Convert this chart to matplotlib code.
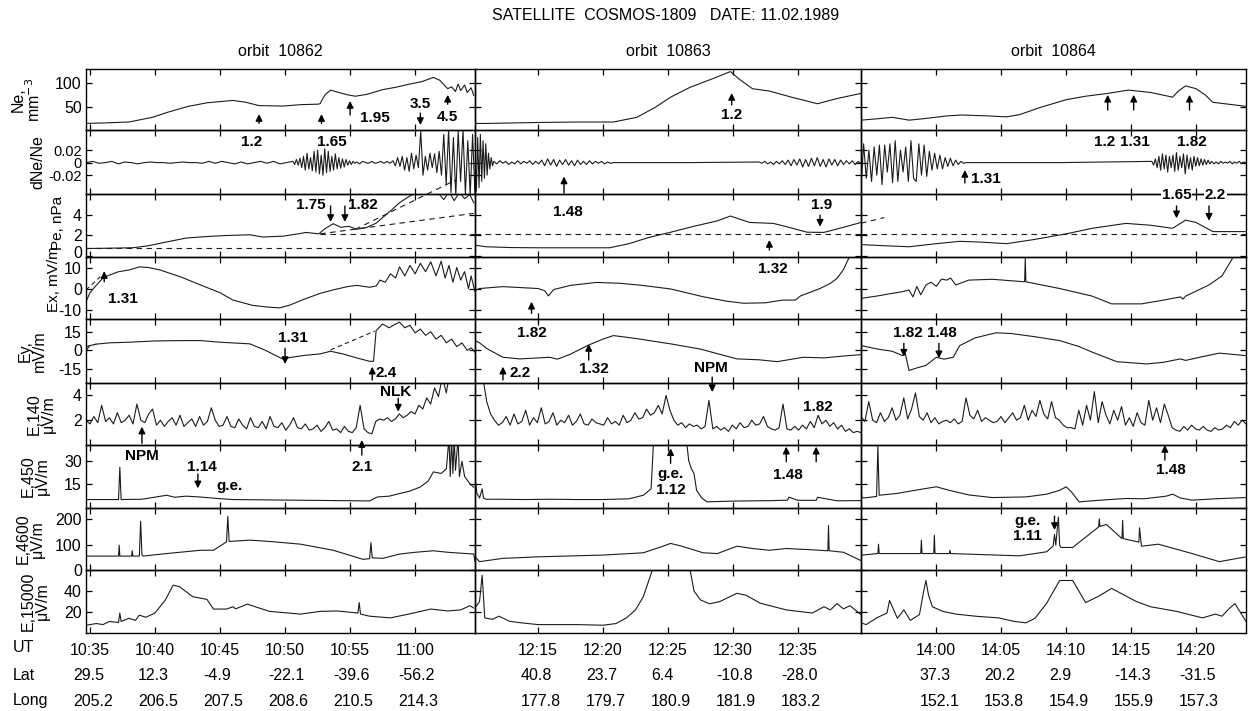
import numpy as np
import matplotlib
matplotlib.use('Agg')
import matplotlib.pyplot as plt
from matplotlib import transforms

plt.rcParams['font.family'] = ['Liberation Sans', 'DejaVu Sans']
plt.rcParams['font.size'] = 11.5

# ---------------- data ----------------
title = 'SATELLITE  COSMOS-1809   DATE: 11.02.1989'
orbits = ['orbit  10862', 'orbit  10863', 'orbit  10864']
xlims = [(34.7, 64.6), (10.15, 39.85), (54.2, 83.85)]
ut_ticks = [[35, 40, 45, 50, 55, 60], [15, 20, 25, 30, 35], [60, 65, 70, 75, 80]]
ut_labels = [['10:35', '10:40', '10:45', '10:50', '10:55', '11:00'],
             ['12:15', '12:20', '12:25', '12:30', '12:35'],
             ['14:00', '14:05', '14:10', '14:15', '14:20']]
lat_labels = [['29.5', '12.3', '-4.9', '-22.1', '-39.6', '-56.2'],
              ['40.8', '23.7', '6.4', '-10.8', '-28.0'],
              ['37.3', '20.2', '2.9', '-14.3', '-31.5']]
long_labels = [['205.2', '206.5', '207.5', '208.6', '210.5', '214.3'],
               ['177.8', '179.7', '180.9', '181.9', '183.2'],
               ['152.1', '153.8', '154.9', '155.9', '157.3']]

row_names = ['Ne,\nmm$^{-3}$', 'dNe/Ne', 'Pe, nPa', 'Ex, mV/m', 'Ey,\nmV/m',
             'E,140\nμV/m', 'E,450\nμV/m', 'E,4600\nμV/m', 'E,15000\nμV/m']
ylims = [(0, 130), (-0.05, 0.052), (-0.1, 6.05), (-14.5, 15), (-26, 25),
         (0, 5), (-0.5, 40.5), (0, 245), (0, 60)]
yticks = [[50, 100], [-0.02, 0, 0.02], [0, 2, 4], [-10, 0, 10], [-15, 0, 15],
          [2, 4], [15, 30], [0, 100, 200], [20, 40]]
yticklabels = [['50', '100'], ['-0.02', '0', '0.02'], ['0', '2', '4'], ['-10', '0', '10'],
               ['-15', '0', '15'], ['2', '4'], ['15', '30'], ['0', '100', '200'], ['20', '40']]

# Ne
ne_t1 = [34.7, 36, 38, 39.8, 41, 42.5, 44, 46, 47, 48, 49.8, 51.2, 52.5, 52.7, 52.8, 53.1, 53.5, 54.0,
         54.4, 54.8, 55.4, 56.3, 57.5, 58.5, 59.6, 60.5, 61.4, 61.9, 62.5, 62.8, 63.1, 63.3, 63.5, 63.8,
         64.0, 64.3, 64.5]
ne_v1 = [14, 15, 17, 27, 38, 50, 58, 63, 59, 52, 51, 54, 55, 56, 62, 76, 85, 81, 78, 75, 72, 76, 86, 91,
         98, 103, 112, 106, 88, 92, 82, 98, 84, 96, 80, 90, 74]
ne_t2 = [10.15, 11, 13, 15, 18, 20.8, 22.6, 24, 25.2, 26.7, 28.5, 29.8, 30.5, 31.5, 32.8, 34.5, 36.5, 38, 39.85]
ne_v2 = [14, 14, 15, 16, 17, 17, 27, 48, 70, 91, 110, 124.5, 108, 88, 83, 70, 56, 67, 78]
ne_t3 = [54.2, 55.5, 56.6, 57.9, 59, 60.8, 62, 64, 65.4, 66.4, 68, 70, 71.5, 73.1, 74.8, 76.5, 78.2, 78.6,
         79.2, 80, 80.7, 81.3, 82.5, 84]
ne_v3 = [21, 24, 27, 21, 24, 30, 32, 30, 28, 32.6, 48, 64.6, 72, 77.6, 85, 80, 70, 82, 94, 88, 75, 59, 55, 50]

# dNe/Ne (units of 1e-3), piecewise segments
dne_b1 = [34.7, 50.6, 55.5, 58.3, 62.2, 64.6]
dne_s1 = [
    [0, 2, -1, 0, 2, -2, 1, 0, -2, 0, 1, 0, 0, -1, 0, 1, 0, 0, -1, 2, -1, 2, 0, -2, 1, -2, 0, 2, -1, 2, -2, 0],
    [2, -3, 5, -4, 7, -8, 10, -12, 15, -10, 8, -13, 18, -15, 20, -18, 12, -20, 22, -16, 18, -14, 10, -12,
     14, -10, 8, -9, 6, -7, 5, -4, 3, -3, 2, -1],
    [1, -2, 2, 0, -1, 2, -1, 0, 2, -1, 2, -1],
    [3, -5, 8, -6, 10, -12, 8, -14, 15, -10, 12, -8, 50, -20, 10, -12, 15, -8, 14, -16, 18, -20],
    [45, -35, 52, -48, 40, -52, 50, -30, 52, -50, 35, -52, 45, -52]]
dne_b2 = [10.15, 11.6, 20.8, 32, 39.85]
dne_s2 = [
    [10, -45, 40, -40, 45, -30, 35, -25, 30, -20, 15, -10, 8, -5],
    [2, -2, 3, -1, 2, -3, 1, -2, 3, -2, 2, -1, 3, -3, 2, -2, 4, -5, 6, -4, 5, -6, 4, -3, 5, -4, 3, -5, 4,
     -3, 2, -3, 3, -2, 2, -1, 2, -2, 1, -1],
    [0, 0],
    [1, -1, 2, -2, 1, -3, 2, -2, 3, -3, 4, -5, 5, -4, 6, -7, 5, -6, 7, -5, 8, -6, 5, -7, 6, -4, 5, -5, 4,
     -3, 3, -2, 3, -3, 2, -1]]
dne_b3 = [54.2, 62.3, 76.6, 81.2, 83.85]
dne_s3 = [
    [-40, 30, -25, 20, -30, 25, -20, 28, -35, 28, -15, 30, -32, 35, -30, 20, -15, 25, -30, 35, -25, -30,
     30, -20, 28, -22, 18, -12, 15, -10, 12, -10, 8, -6, 7, -5, 4, -3, 2, -1],
    [0, 0],
    [2, -4, 6, -8, 10, -12, 14, -10, 12, -15, 10, -8, 12, -14, 16, -12, 10, -8, 14, -18, 12, -10, 8, -12,
     10, -6, 8, -5, 6, -4, 5, -3, 4, -2],
    [2, -2, 1, -2, 2, -1, 1, -1, 2, -2, 1, -1, 2, -1, 1, 0]]

# Pe
pe_t1 = [34.7, 36, 38.3, 39.5, 40.9, 42.4, 44, 45.5, 47.3, 48.3, 49.9, 51.2, 51.6, 52.6, 53.0, 53.7, 54.3,
         54.9, 55.5, 56.3, 57, 57.5, 58.2, 58.8, 59.4, 59.8, 60.3, 60.8, 61.3, 61.8, 62.2, 62.6, 63.0, 63.4,
         63.8, 64.2, 64.5]
pe_v1 = [0.73, 0.75, 0.8, 1.0, 1.37, 1.75, 1.9, 2.0, 2.07, 1.85, 1.94, 2.2, 2.3, 2.16, 2.6, 3.15, 2.8,
         2.9, 2.6, 2.8, 3.2, 3.75, 4.5, 5.2, 5.7, 6.0, 6.3, 6.5, 6.6, 6.1, 5.5, 6.3, 5.4, 6.2, 5.6, 6.0, 5.2]
pe_t2 = [10.15, 11, 13, 15, 18, 20.5, 22, 23.5, 25.2, 27, 28.8, 29.8, 30.5, 31.3, 33.1, 34, 35.7, 37,
         38.5, 39.85]
pe_v2 = [1.05, 0.9, 0.82, 0.8, 0.8, 0.8, 1.2, 1.8, 2.32, 2.9, 3.43, 3.9, 3.6, 3.27, 3.18, 2.9, 2.32, 2.3,
         2.8, 3.27]
pe_t3 = [54.2, 56, 57.9, 60, 61.8, 63.5, 65.4, 67.5, 70, 72, 74.6, 76.5, 78.2, 79.2, 80, 81.3, 83.85]
pe_v3 = [1.11, 1.0, 0.9, 1.2, 1.43, 1.35, 1.2, 1.6, 2.16, 2.7, 3.18, 3.0, 2.7, 3.5, 3.27, 2.38, 2.38]
pe_dash_t = [[[34.7, 64.6], [52.7, 64.6], [52.7, 64.5], [55.4, 63.1]],
             [[10.15, 39.85]],
             [[54.2, 83.85], [54.2, 56.0]]]
pe_dash_v = [[[0.73, 0.73], [2.16, 2.16], [2.16, 4.16], [2.6, 7.4]],
             [[2.16, 2.16]],
             [[2.16, 2.16], [3.2, 3.75]]]

# Ex
ex_t1 = [34.7, 35.0, 35.4, 36, 36.5, 37.2, 38, 38.8, 39.5, 40.4, 42, 43.5, 45, 46, 47.5, 48.8, 49.6, 50.4,
         51.5, 52.7, 53.8, 54.8, 55.5, 56.5, 57.0, 57.3, 57.7, 58.1, 58.5, 58.8, 59.2, 59.6, 60.0, 60.4,
         60.8, 61.2, 61.6, 62.0, 62.3, 62.6, 62.9, 63.2, 63.5, 63.8, 64.1, 64.3, 64.6]
ex_v1 = [-6.3, -2, 0.9, 5, 6.4, 8, 8.8, 10.3, 10, 8.8, 5.5, 1.7, -2, -5.5, -8, -8.9, -9.2, -7.8, -5, -2.3,
         -0.5, 0.9, 1.5, 0.6, 1.2, 4, 3, 7, 5, 10.3, 6, 11, 7, 12, 8, 12.7, 6, 13, 5, 11, 3, 10, 4, 8, 0,
         6, -1.5]
ex_t2 = [10.15, 10.5, 12.3, 13.5, 15, 15.5, 15.8, 16.2, 17.5, 19.5, 21.3, 23, 25.2, 27.7, 29.5, 30.8, 32.5,
         33.8, 34.8, 35.2, 36.7, 37.5, 38, 38.5, 38.9, 39.3]
ex_v2 = [-1, 0, 0.9, 0.5, 0, -1, -3.5, -0.5, 1.5, 2.9, 2.5, 1.5, -0.2, -3.9, -6, -7, -6.8, -5.5, -5.5,
         -3.5, 0, 2.5, 4.8, 9, 14.3, 20]
ex_t3 = [54.2, 54.25, 54.3, 55.5, 56.6, 57.4, 57.9, 58.2, 58.5, 58.8, 59.2, 59.6, 60.0, 60.4, 60.8, 61.1,
         61.5, 62.5, 64.3, 66.8, 66.85, 66.9, 69.5, 72, 73.5, 75.8, 77.5, 78.8, 79.0, 79.2, 81, 82, 82.8, 83.2]
ex_v3 = [16, -4.6, -4.6, -3.5, -2.3, -1.5, -0.7, -4, 1, -3, 1.7, 3, 1, 4.5, 4, 5, 1.7, 4, 4.4, 3.2, 14.3,
         3.2, 0, -3.6, -7.3, -7.3, -5.5, -4, -5, -3.6, 1.7, 6, 14.3, 17]
ex_dash_t = [34.7, 35.8]
ex_dash_v = [-0.7, 5.6]

# Ey
ey_t1 = [34.7, 35.0, 35.5, 36.5, 38, 40, 42, 43.5, 45, 47.3, 48.5, 49.8, 50.5, 51.5, 52.7, 53.5, 54.5, 55.5,
         56.5, 56.8, 57.0, 57.5, 58.0, 58.4, 58.8, 59.2, 59.6, 60.0, 60.4, 60.8, 61.2, 61.6, 62.0, 62.4,
         62.8, 63.2, 63.6, 64.0, 64.3, 64.6]
ey_v1 = [0, 3.8, 5, 6, 6.5, 7.5, 7.8, 7.8, 6.5, 5.2, 0, -6.8, -5.5, -4, -2.8, -0.7, -3, -6, -8.7, -8.7,
         15.8, 21, 18, 20.5, 22.5, 18, 20, 14, 17, 12, 14.8, 9, 12, 6, 9, 3, 6, 0, 2, -1.4]
ey_t2 = [10.15, 10.5, 11.1, 12.3, 13.6, 15, 15.9, 16.5, 17.5, 18.8, 19.3, 20, 20.8, 22.5, 25.2, 27.5,
         30.3, 32, 33.4, 35.4, 37, 38.5, 39.85]
ey_v2 = [7.8, 6, 1.2, -5.5, -6.8, -6, -5.5, -7, -3, 3.8, 6, 9, 11.8, 9.5, 5.2, 1, -6.8, -7.5, -9, -5.5,
         -6, -4.5, -3.4]
ey_t3 = [54.2, 55.5, 56.6, 57.4, 57.6, 57.9, 58.5, 59.2, 60, 60.6, 61.3, 61.8, 63, 64.6, 65.8, 67.5, 69.5,
         71, 72, 73.9, 76.2, 77.5, 78.8, 79.2, 80.5, 81.8, 83.85]
ey_v3 = [3.8, 1, -0.7, -4.2, -2, -16, -14, -12, -5.5, -7, -5.5, 3.8, 10, 14, 13.4, 11, 7.8, 3, -1.4, -9,
         -10.8, -9.5, -6.8, -8, -5, -2.2, -4.2]
ey_dash_t = [[34.7, 35.5], [53.5, 56.9]]
ey_dash_v = [[3.0, 5.0], [0.4, 15.4]]

# E 140 Hz (uniformly sampled)
e140_v1 = [2.0, 1.7, 2.3, 1.8, 3.2, 1.9, 2.2, 1.7, 2.6, 1.8, 2.0, 2.4, 1.7, 3.3, 2.0, 1.8, 2.5, 2.9, 1.6,
           2.0, 1.5, 1.9, 2.2, 1.6, 2.4, 1.5, 1.8, 2.1, 1.5, 2.3, 1.6, 1.9, 3.0, 2.0, 1.5,
           1.6, 2.3, 1.5, 1.4, 2.1, 1.6, 1.3, 2.2, 1.5, 1.4, 1.9, 1.3, 2.3, 1.5, 1.4, 1.8, 1.2, 1.6, 2.2,
           1.4, 1.3, 1.7, 1.2, 1.3, 1.6, 1.1, 1.4, 1.9, 1.2, 1.3, 1.0, 1.5, 1.1,
           1.0, 1.4, 3.2, 1.3, 1.0, 0.9, 1.9,
           2.1, 2.0, 2.2, 1.9, 2.1, 2.5, 2.2, 2.4, 2.7, 2.5,
           3.2, 2.9, 3.8, 3.3, 4.6, 3.9, 5.5, 4.2, 6.0, 5.8, 7, 6.5, 7, 5.5, 7]
e140_v2 = [7, 6, 5.5, 3.5, 2.5,
           2.0, 1.6, 1.8, 2.3, 1.6, 2.5, 1.7, 1.9, 2.8, 1.6, 2.2, 1.8, 3.0, 1.7, 1.9, 2.6, 1.6, 2.0, 1.8,
           2.4, 1.6, 1.9, 2.5, 1.7, 1.6, 2.1, 1.8, 1.7,
           1.6, 2.2, 1.7, 1.9, 1.6, 2.4, 1.8, 2.0, 2.6, 2.1, 2.2, 2.9, 2.4, 2.6, 3.2, 2.5, 4.0, 2.8,
           2.0, 1.6, 1.8, 1.4, 1.7, 1.5, 1.6, 1.3, 1.5, 3.6,
           1.3, 1.5, 1.2, 1.4, 1.1, 1.6, 1.3, 1.8, 1.4, 1.5, 2.0, 1.6, 1.7, 2.3, 1.5, 1.3, 1.2, 1.4, 3.3,
           1.3, 1.2, 1.5,
           1.2, 1.6, 1.3, 1.9, 1.4, 2.4, 1.7, 2.0, 1.5, 1.8, 1.3, 1.6, 1.1, 1.3, 1.0, 1.1, 1.0]
e140_v3 = [2.3, 1.9, 3.5, 2.0, 1.8, 2.6, 1.9, 2.2, 3.0, 2.0, 2.4, 3.8, 2.1, 2.9, 4.2, 2.3, 2.0, 2.6, 1.8,
           2.2, 1.7, 1.9, 2.0, 1.8, 2.1, 1.7, 1.9, 3.8, 2.4, 2.1, 2.8, 1.9, 2.2, 2.0, 1.8, 1.9, 2.3, 1.8,
           2.2, 2.6, 2.0, 2.2, 3.2, 2.0, 2.8, 2.3, 3.6, 2.5, 2.1, 3.5, 2.2, 2.0, 1.6, 1.4,
           1.4, 1.3, 2.8, 1.6, 3.2, 2.0, 4.3, 1.8, 3.5, 2.4, 1.7, 2.8, 2.0, 3.1, 1.6, 2.2, 1.5, 2.6, 1.8,
           1.6, 3.6, 2.0, 3.0, 1.8, 3.3, 2.4, 1.4,
           1.2, 1.1, 1.5, 1.2, 1.6, 1.3, 1.2, 1.5, 1.2, 1.1, 1.4, 1.2, 1.3, 1.6, 1.4, 1.9, 1.6, 2.0, 1.7]
e140_span = [(34.7, 64.5), (10.15, 39.85), (54.2, 83.85)]

# E 450 Hz
e450_t1 = [34.7, 37.2, 37.3, 37.4, 39, 40.9, 41.5, 42.4, 43.4, 44.8, 46, 56.5, 57.1, 58, 58.8, 59.6, 60.4,
           61, 61.4, 62, 62.4, 62.6, 62.7, 62.8, 62.9, 63.0, 63.1, 63.3, 63.4, 63.6, 63.8, 64.2, 64.5]
e450_v1 = [5, 5, 26, 5, 5.2, 7.8, 6.5, 7.2, 6.7, 5.7, 5, 4.1, 6.7, 7.2, 8.9, 10.5, 13.2, 17, 23, 22, 25,
           45, 20, 45, 22, 45, 24, 45, 20, 30, 20, 15.5, 13]
e450_t2 = [10.15, 10.3, 10.5, 10.7, 10.8, 11.0, 12, 14, 16, 18, 20, 22, 23.1, 23.7, 23.9, 26.4, 26.6, 26.8,
           27.0, 27.2, 27.6, 28, 30, 33, 34.2, 34.3, 35, 36.4, 36.5, 38, 39.85]
e450_v2 = [19.8, 9, 6, 12, 6, 5.2, 5.2, 5.0, 5.2, 5.0, 5.0, 5.5, 7.8, 12, 45, 45, 30, 25, 22, 11, 6, 3.5,
           4.0, 4.3, 4.6, 6.5, 4.5, 4.5, 6.5, 4.2, 4.3]
e450_t3 = [54.2, 54.25, 54.4, 55.4, 55.5, 55.6, 57, 58, 59.2, 60, 61, 62.5, 64.3, 66.9, 68.5, 69.5, 70,
           70.4, 71, 72.5, 74.6, 76, 77.7, 78.2, 78.8, 79.7, 81.5, 83.85]
e450_v3 = [22, 6.7, 6.0, 7, 40, 7.8, 9, 10.5, 12.2, 13.3, 11, 8, 6.3, 6.7, 8.5, 11, 13.3, 10, 3.5, 4.5,
           5.7, 5.5, 7.2, 8.5, 6, 4.6, 5.5, 6.3]

# E 4600 Hz
e4600_t1 = [34.7, 37.2, 37.25, 37.3, 38.2, 38.25, 38.3, 38.8, 38.9, 39.0, 39.1, 40.9, 43.5, 44.5, 45.5,
            45.6, 45.7, 47.3, 49, 51.2, 53.7, 56, 56.5, 56.6, 56.7, 57.5, 58.8, 60, 61.4, 62.5, 64.5, 64.6]
e4600_v1 = [55, 55, 98, 55, 55, 76, 55, 55, 193, 60, 55, 65, 78, 78, 111, 212, 113, 118, 112, 102, 78, 42,
            45, 108, 48, 46, 63, 70, 76, 70, 63, 33]
e4600_t2 = [10.15, 10.5, 12.3, 15, 20, 23.1, 24.5, 25.2, 26, 27.7, 28.8, 30.3, 31.5, 32.8, 34.1, 36, 37.3,
            37.35, 37.4, 38.5, 39.85]
e4600_v2 = [52, 33, 46, 52, 59, 68, 92, 105, 95, 68, 65, 94, 85, 78, 85, 80, 76, 176, 76, 70, 37]
e4600_t3 = [54.2, 54.25, 54.3, 55.5, 55.55, 55.6, 58.8, 58.85, 58.9, 59.8, 59.85, 59.9, 61, 61.05, 61.1,
            66.4, 68.5, 69.0, 69.1, 69.2, 69.4, 69.5, 69.6, 70.5, 72.5, 72.55, 72.6, 73.1, 74.3, 74.35,
            74.4, 75.6, 75.65, 75.8, 77.1, 79.7, 81.8, 83.85]
e4600_v3 = [130, 59, 59, 65, 102, 65, 65, 118, 65, 65, 137, 65, 65, 78, 65, 56, 72, 95, 141, 98, 209, 98,
            89, 89, 170, 202, 172, 180, 124, 196, 124, 110, 167, 94, 102, 65, 33, 52]

# E 15000 Hz
e15k_t1 = [34.7, 35.5, 36, 36.5, 37.2, 37.3, 37.4, 38, 38.5, 38.8, 39.3, 40, 40.8, 41.4, 41.9, 42.9, 44,
           44.5, 45.5, 46, 46.2, 47.1, 48.8, 51.2, 52.7, 54, 55.6, 55.7, 55.8, 56.5, 58.1, 59.5, 61.2,
           62.5, 63.5, 64.2, 64.5]
e15k_v1 = [7.4, 9, 8, 11, 10, 19, 11, 14, 12, 17, 15, 19, 31.5, 45.6, 44, 34.6, 32, 22.8, 22.8, 25, 23,
           27.5, 20.6, 18, 20.6, 21, 19, 29, 18, 16, 14.4, 18, 22.8, 21, 22, 26, 23.8]
e15k_t2 = [10.15, 10.5, 10.7, 10.9, 11.5, 12, 12.8, 13.5, 15, 18, 20, 21, 21.8, 22.5, 23.1, 23.8, 26.7,
           27.0, 27.5, 28.2, 29, 30.3, 31, 32.1, 34.1, 36.1, 37, 37.5, 38, 38.5, 39, 39.5, 39.85]
e15k_v2 = [23.8, 30, 55, 14.4, 13, 16, 11.2, 10, 8, 8, 7.4, 9, 14.4, 22, 34.6, 60, 60, 40, 31.5, 27.8, 30,
           37.8, 36, 28.4, 22, 19, 25, 22, 28, 23, 26, 21, 17.5]
e15k_t3 = [54.2, 54.6, 55.5, 56.2, 56.4, 57, 57.5, 58, 58.7, 59.0, 59.2, 59.4, 59.7, 60.5, 61.5, 63.1,
           64.8, 66, 66.9, 67.6, 68.5, 69.5, 70.5, 71.5, 72.5, 73.5, 75.4, 76.5, 78.5, 80.5, 81.5, 82,
           82.6, 83, 83.85]
e15k_v3 = [9.7, 8, 15, 19, 31, 14, 22, 12, 17.5, 38, 50, 36, 25, 20.6, 18, 15.9, 14.4, 11, 9.7, 14, 28.4,
           50, 50, 29, 35, 42.5, 30, 25, 20.6, 14.4, 18, 16, 23.8, 28, 11]

# annotations: (row, col, text, t, value)
ann_labels = [
    (0, 0, '1.2', 47.4, -25.6), (0, 0, '1.65', 53.6, -25.6), (0, 0, '1.95', 56.9, 25.5),
    (0, 0, '3.5', 60.4, 55.4), (0, 0, '4.5', 62.5, 27.7), (0, 1, '1.2', 29.9, 32),
    (0, 2, '1.2', 73.0, -25.6), (0, 2, '1.31', 75.3, -25.6), (0, 2, '1.82', 79.7, -25.6),
    (1, 1, '1.48', 17.3, -0.0787), (1, 2, '1.31', 63.8, -0.026),
    (2, 0, '1.75', 52.0, 4.98), (2, 0, '1.82', 56.0, 4.98),
    (2, 1, '1.32', 33.1, -1.27), (2, 1, '1.9', 36.8, 4.98),
    (3, 0, '1.31', 37.5, -5), (3, 1, '1.82', 14.5, -21),
    (4, 0, '1.31', 50.6, 10.1), (4, 0, '2.4', 57.8, -18.3), (4, 1, '2.2', 13.6, -18.3),
    (4, 1, '1.32', 19.3, -14.8), (4, 1, 'NPM', 28.3, -14.3), (4, 2, '1.82', 57.8, 14.1),
    (4, 2, '1.48', 60.4, 14.1),
    (5, 0, 'NPM', 39.0, -0.89), (5, 0, 'NLK', 58.5, 4.3), (5, 0, '2.1', 55.9, -1.8),
    (5, 1, '1.82', 36.5, 3.09),
    (6, 0, '1.14', 43.6, 26), (6, 0, 'g.e.', 45.7, 13.8), (6, 1, 'g.e.', 25.2, 21.4),
    (6, 1, '1.12', 25.2, 11.2), (6, 1, '1.48', 34.2, 21.0), (6, 2, '1.48', 78.1, 24.2),
    (7, 2, 'g.e.', 67.0, 195), (7, 2, '1.11', 67.0, 134)]
ann_boxed = [(2, 2, '1.65', 78.5, 6.0), (2, 2, '2.2', 81.5, 6.0)]
# arrows: (row, col, t, value at tail, value at tip)
ann_arrows = [
    (0, 0, 48.0, 14, 34), (0, 0, 52.8, 14, 34), (0, 0, 55.0, 32, 61.8), (0, 0, 60.4, 36, 10.6),
    (0, 0, 62.5, 55, 75), (0, 1, 29.9, 53.3, 78.9),
    (0, 2, 73.2, 42.6, 75), (0, 2, 75.2, 42.6, 75), (0, 2, 79.5, 42.6, 75),
    (1, 1, 17.0, -0.0484, -0.0221), (1, 2, 62.2, -0.0325, -0.0117),
    (2, 0, 53.5, 4.88, 3.32), (2, 0, 54.6, 4.88, 3.32),
    (2, 1, 32.8, 0.58, 1.56), (2, 1, 36.7, 3.99, 2.86),
    (2, 2, 78.5, 4.88, 3.68), (2, 2, 81.0, 4.88, 3.44),
    (3, 0, 36.1, 3.2, 8.3), (3, 1, 14.5, -11.8, -6.3),
    (4, 0, 50.0, 1.65, -10.9), (4, 0, 56.7, -23.6, -13), (4, 1, 12.3, -23.6, -13),
    (4, 1, 18.9, -7.7, 5.1), (4, 2, 57.5, 5.6, -5.0), (4, 2, 60.2, 5.6, -6.3),
    (5, 0, 39.0, 0.14, 1.48), (5, 0, 58.7, 3.77, 2.69), (5, 0, 55.9, -0.81, 0.4),
    (5, 1, 28.4, 5.48, 4.27),
    (6, 0, 43.3, 21.6, 12.3), (6, 1, 25.2, 28.6, 38.4), (6, 1, 34.1, 29.6, 39.4),
    (6, 1, 36.4, 29.6, 39.4), (6, 2, 77.6, 30.7, 40.5),
    (7, 2, 69.1, 213, 158)]


def build_segments(bounds, segs, scale=1.0):
    ts, vs = [], []
    for i, vals in enumerate(segs):
        last = i == len(segs) - 1
        ts.append(np.linspace(bounds[i], bounds[i + 1], len(vals), endpoint=last))
        vs.append(np.asarray(vals, dtype=float) * scale)
    return np.concatenate(ts), np.concatenate(vs)


traces = [[None] * 3 for _ in range(9)]
traces[0] = [(ne_t1, ne_v1), (ne_t2, ne_v2), (ne_t3, ne_v3)]
traces[1] = [build_segments(dne_b1, dne_s1, 1e-3), build_segments(dne_b2, dne_s2, 1e-3),
             build_segments(dne_b3, dne_s3, 1e-3)]
traces[2] = [(pe_t1, pe_v1), (pe_t2, pe_v2), (pe_t3, pe_v3)]
traces[3] = [(ex_t1, ex_v1), (ex_t2, ex_v2), (ex_t3, ex_v3)]
traces[4] = [(ey_t1, ey_v1), (ey_t2, ey_v2), (ey_t3, ey_v3)]
traces[5] = [build_segments(list(e140_span[c]), [v]) for c, v in enumerate([e140_v1, e140_v2, e140_v3])]
traces[6] = [(e450_t1, e450_v1), (e450_t2, e450_v2), (e450_t3, e450_v3)]
traces[7] = [(e4600_t1, e4600_v1), (e4600_t2, e4600_v2), (e4600_t3, e4600_v3)]
traces[8] = [(e15k_t1, e15k_v1), (e15k_t2, e15k_v2), (e15k_t3, e15k_v3)]

# ---------------- layout ----------------
W, H = 1248, 711
fig = plt.figure(figsize=(W / 100, H / 100), dpi=100)
col_px = [(86, 475), (475, 861), (861, 1246)]
row_px = [69, 130, 194, 257, 319, 383, 445, 508, 570, 633]
label_x = [27, 38, 58, 54, 32, 41, 35, 30, 35]
label_yc = [99.5, 162, 223, 279, 351, 414, 476.5, 539, 601.5]
label_fs = [11.5, 11.5, 11, 11, 11.5, 11.5, 11.5, 11.5, 11.5]
ytick_fs = [11.5, 10.5, 11.5, 11.5, 11.5, 11.5, 11.5, 11.5, 11.5]
LC = '#1c1c1c'

axes = [[None] * 3 for _ in range(9)]
for r in range(9):
    for c in range(3):
        x0, x1 = col_px[c]
        y0, y1 = row_px[r], row_px[r + 1]
        ax = fig.add_axes([x0 / W, 1 - y1 / H, (x1 - x0) / W, (y1 - y0) / H])
        ax.set_facecolor('none')
        axes[r][c] = ax
        ax.set_xlim(*xlims[c])
        ax.set_ylim(*ylims[r])
        ax.set_xticks(ut_ticks[c])
        ax.set_yticks(yticks[r])
        ax.tick_params(direction='in', length=4, width=0.9, top=True, right=True,
                       labelsize=11.5, pad=3)
        ax.tick_params(axis='y', labelsize=ytick_fs[r])
        for s in ax.spines.values():
            s.set_linewidth(1.0)
        if c == 0:
            ax.set_yticklabels(yticklabels[r])
        else:
            ax.set_yticklabels([])
        if r == 8:
            ax.set_xticklabels(ut_labels[c])
            ax.tick_params(axis='x', pad=7)
        else:
            ax.set_xticklabels([])
        t, v = traces[r][c]
        ax.plot(t, v, color=LC, lw=0.8)

# lift the Pe "0" label a little so it clears the Ex "10" label below it
pe0 = axes[2][0].get_yticklabels()[0]
pe0.set_transform(pe0.get_transform() + transforms.ScaledTranslation(0, 4 / 100, fig.dpi_scale_trans))

# dashed reference lines
for c in range(3):
    for dt, dv in zip(pe_dash_t[c], pe_dash_v[c]):
        axes[2][c].plot(dt, dv, color=LC, lw=0.8, ls=(0, (5, 4)), clip_on=False)
axes[3][0].plot(ex_dash_t, ex_dash_v, color=LC, lw=0.8, ls=(0, (4, 3)))
for dt, dv in zip(ey_dash_t, ey_dash_v):
    axes[4][0].plot(dt, dv, color=LC, lw=0.8, ls=(0, (4, 3)))

# annotations
for r, c, txt, t, v in ann_labels:
    axes[r][c].text(t, v, txt, ha='center', va='center', fontsize=11, fontweight='bold',
                    clip_on=False, zorder=5)
for r, c, txt, t, v in ann_boxed:
    axes[r][c].text(t, v, txt, ha='center', va='center', fontsize=11, fontweight='bold',
                    clip_on=False, zorder=5,
                    bbox=dict(facecolor='white', edgecolor='none', pad=0.6))
for r, c, t, vtail, vtip in ann_arrows:
    axes[r][c].annotate('', xy=(t, vtip), xytext=(t, vtail), annotation_clip=False,
                        arrowprops=dict(arrowstyle='-|>', color='black', lw=1.0,
                                        mutation_scale=10, shrinkA=0, shrinkB=0))

# row labels
for r in range(9):
    fig.text(label_x[r] / W, 1 - label_yc[r] / H, row_names[r], rotation=90, ha='center',
             va='center', fontsize=label_fs[r], linespacing=0.95, multialignment='center')

# titles
fig.text(666 / W, 1 - 15 / H, title, ha='center', va='center', fontsize=11.5)
for c in range(3):
    xc = (col_px[c][0] + col_px[c][1]) / 2
    fig.text(xc / W, 1 - 52 / H, orbits[c], ha='center', va='center', fontsize=11.5)

# UT / Lat / Long rows
fig.text(13 / W, 1 - 648 / H, 'UT', ha='left', va='center', fontsize=11.5)
fig.text(13 / W, 1 - 675 / H, 'Lat', ha='left', va='center', fontsize=11.5)
fig.text(13 / W, 1 - 701 / H, 'Long', ha='left', va='center', fontsize=11.5)
for c in range(3):
    ax = axes[8][c]
    base = transforms.blended_transform_factory(ax.transData, fig.transFigure)
    tr = transforms.offset_copy(base, fig=fig, x=-17, y=0, units='dots')
    for tk, la, lo in zip(ut_ticks[c], lat_labels[c], long_labels[c]):
        fig.text(tk, 1 - 675 / H, la, transform=tr, ha='left', va='center', fontsize=11.5)
        fig.text(tk, 1 - 701 / H, lo, transform=tr, ha='left', va='center', fontsize=11.5)

fig.savefig('out.png', dpi=100, facecolor='white')
